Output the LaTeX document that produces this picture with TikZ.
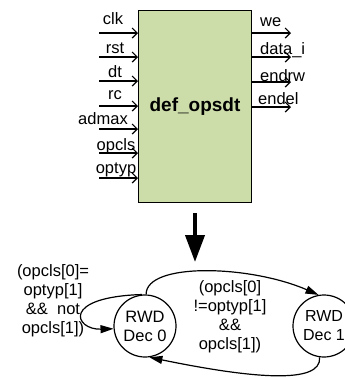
\documentclass[tikz,border=0pt]{standalone}
\usepackage{fontspec}
\setmainfont{Liberation Sans}
\usetikzlibrary{arrows.meta}
\definecolor{boxgreen}{RGB}{205,221,170}
\begin{document}
\begin{tikzpicture}[x=1pt,y=-1pt,
  font=\fontsize{16.5}{19}\selectfont,
  lbl/.style={anchor=base, inner sep=0},
  olbl/.style={anchor=base west, inner sep=0},
  io/.style={line width=1.2pt, -{Straight Barb[length=5pt,width=10pt]}},
  st/.style={circle, draw, line width=1.2pt, minimum size=62pt, inner sep=0, align=center},
  tr/.style={line width=1.2pt, -{Triangle[length=13pt,width=8pt]}},
  cond/.style={align=center, inner sep=0, anchor=north}]
\useasboundingbox (0,0) rectangle (345,378);
% block
\node[draw, line width=1.3pt, fill=boxgreen, minimum width=113pt, minimum height=192pt,
      anchor=north west, inner sep=0] (box) at (138,9.5) {};
\node[lbl, font=\bfseries\fontsize{19}{22}\selectfont] (title) at (195,111) {def\_opsdt};
% inputs
\coordinate (iclk) at (99,33);
\coordinate (irst) at (99,57);
\coordinate (idt) at (99,81);
\coordinate (irc) at (99,106);
\coordinate (iadmax) at (99,129);
\coordinate (iopcls) at (99,153);
\coordinate (ioptyp) at (99,178);
\foreach \n in {iclk,irst,idt,irc,iadmax,iopcls,ioptyp}
  \draw[io] (\n) -- (\n -| box.west);
\node[lbl] (lclk) at (113,24) {clk};
\node[lbl] (lrst) at (115,53) {rst};
\node[lbl] (ldt) at (115,77) {dt};
\node[lbl] (lrc) at (115,99) {rc};
\node[lbl] (ladmax) at (103,124) {admax};
\node[lbl] (lopcls) at (116,150) {opcls};
\node[lbl] (loptyp) at (116,173) {optyp};
% outputs
\coordinate (owe) at (291,33);
\coordinate (odata) at (291,57);
\coordinate (oendrw) at (291,82);
\coordinate (oendel) at (291,107);
\foreach \n in {owe,odata,oendrw,oendel}
  \draw[io] (\n -| box.east) -- (\n);
\node[olbl] (lwe) at (260,26) {we};
\node[olbl] (ldata) at (260,54) {data\_i};
\node[olbl] (lendrw) at (260,81) {endrw};
\node[olbl] (lendel) at (258,104) {endel};
% big arrow
\coordinate (a1) at (195,213);
\coordinate (a2) at (195,262);
\draw[line width=4pt, -{Triangle[length=27pt,width=19pt]}] (a1) -- (a2);
% state machine
\node[st] (L) at (145,326) {RWD\\Dec 0};
\node[st, font=\fontsize{16}{19}\selectfont] (R) at (324,326) {RWD\\Dec 1};
\draw[tr] (L.88) .. controls (146,262) and (250,265) .. (R.100);
\draw[tr] (R.262) .. controls (322,385) and (250,378) .. (L.278);
\draw[tr] (L.95) .. controls (60,297) and (75,330) .. (L.185);
\node[cond] (c1) at (53,264) {(opcls[0]=\\optyp[1]\\\&\&\ \ not\\opcls[1])};
\node[cond] (c2) at (230,280) {(opcls[0]\\!=optyp[1]\\\&\&\\opcls[1])};
\end{tikzpicture}
\end{document}
